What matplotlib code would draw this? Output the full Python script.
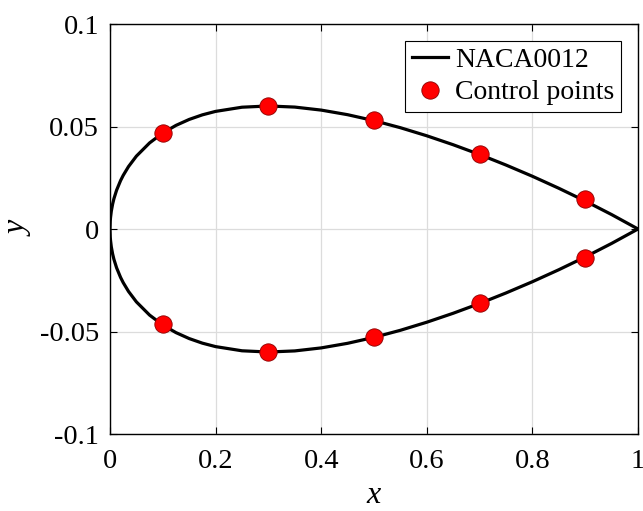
import matplotlib
matplotlib.use("Agg")
import matplotlib.pyplot as plt

plt.rcParams['font.family'] = ['Liberation Serif', 'DejaVu Serif']

# airfoil outline (upper and lower surface)
x_upper = [1.0, 0.95, 0.9, 0.85, 0.8, 0.75, 0.7, 0.65, 0.6, 0.55, 0.5, 0.45, 0.4, 0.35,
           0.3, 0.25, 0.2, 0.175, 0.15, 0.125, 0.1, 0.075, 0.05, 0.035, 0.025, 0.02,
           0.0125, 0.0075, 0.005, 0.0025, 0.001, 0.0005, 0.0]
y_upper = [0.0, 0.00704, 0.01365, 0.01987, 0.02572, 0.03120, 0.03634, 0.04110, 0.04547,
           0.04941, 0.05286, 0.05576, 0.05800, 0.05947, 0.06001, 0.05941, 0.05737, 0.05569,
           0.05345, 0.05055, 0.04683, 0.04200, 0.03555, 0.03043, 0.02615, 0.02360,
           0.01894, 0.01485, 0.01221, 0.00872, 0.00556, 0.00395, 0.0]
x_lower = [0.0005, 0.001, 0.0025, 0.005, 0.0075, 0.0125, 0.02, 0.025, 0.035, 0.05, 0.075,
           0.1, 0.125, 0.15, 0.175, 0.2, 0.25, 0.3, 0.35, 0.4, 0.45, 0.5, 0.55, 0.6, 0.65,
           0.7, 0.75, 0.8, 0.85, 0.9, 0.95, 1.0]
y_lower = [-0.00395, -0.00556, -0.00872, -0.01221, -0.01485, -0.01894, -0.02360, -0.02615,
           -0.03043, -0.03555, -0.04200, -0.04683, -0.05055, -0.05345, -0.05569, -0.05737,
           -0.05941, -0.06001, -0.05947, -0.05800, -0.05576, -0.05286, -0.04941, -0.04547,
           -0.04110, -0.03634, -0.03120, -0.02572, -0.01987, -0.01365, -0.00704, 0.0]

# control points
cp_x = [0.1, 0.3, 0.5, 0.7, 0.9, 0.1, 0.3, 0.5, 0.7, 0.9]
cp_y = [0.0468, 0.0600, 0.0531, 0.0366, 0.0145, -0.0465, -0.0598, -0.0525, -0.0363, -0.0143]

xticks = [0, 0.2, 0.4, 0.6, 0.8, 1]
xtick_labels = ['0', '0.2', '0.4', '0.6', '0.8', '1']
yticks = [-0.1, -0.05, 0, 0.05, 0.1]
ytick_labels = ['-0.1', '-0.05', '0', '0.05', '0.1']

fig = plt.figure(figsize=(6.43, 5.11), dpi=100)
ax = fig.add_axes([110 / 643, 1 - 434 / 511, 528 / 643, 410 / 511])

ax.plot(x_upper + x_lower, y_upper + y_lower, color='black', lw=2.3, label='NACA0012', zorder=3)
ax.plot(cp_x, cp_y, 'o', color='red', markeredgecolor='#8b0000', markeredgewidth=0.6,
        markersize=12.5, label='Control points', zorder=4)

ax.set_xlim(0, 1)
ax.set_ylim(-0.1, 0.1)
ax.set_xticks(xticks)
ax.set_xticklabels(xtick_labels)
ax.set_yticks(yticks)
ax.set_yticklabels(ytick_labels)
ax.tick_params(direction='in', length=5, width=0.8, labelsize=20.5,
               top=True, right=True, colors='black')
ax.tick_params(axis='x', pad=11)
ax.tick_params(axis='y', pad=8)
ax.grid(True, color='#dcdcdc', lw=0.9)
ax.set_axisbelow(True)
for s in ax.spines.values():
    s.set_linewidth(1.0)

ax.set_xlabel('x', fontsize=23, fontstyle='italic', labelpad=5)
ax.set_ylabel('y', fontsize=23, fontstyle='italic', labelpad=4)

leg = ax.legend(loc='upper right', fontsize=20, frameon=True, fancybox=False,
                edgecolor='black', framealpha=1, handlelength=1.3, handletextpad=0.25,
                borderpad=0.25, labelspacing=0.25, borderaxespad=0.6)
leg.get_frame().set_linewidth(0.8)

fig.savefig('out.png', dpi=100)
